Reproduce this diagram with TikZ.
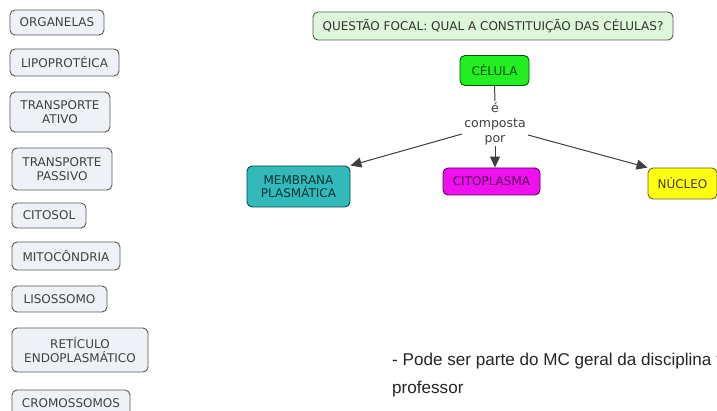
\documentclass[tikz,border=0pt]{standalone}
\usepackage{fontspec}
\setmainfont{DejaVu Sans}
\newfontfamily\arialfont{Liberation Sans}
\usetikzlibrary{arrows.meta}
\begin{document}
\begin{tikzpicture}[x=1pt,y=-1pt,
  concept/.style={draw=black!65,line width=0.9pt,rounded corners=5pt,fill=leftfill,
    font=\fontsize{12}{13.5}\selectfont,text=black!75,align=center,inner sep=0pt},
  linkline/.style={draw=black!75,line width=1pt},
  linkarrow/.style={linkline,-{Triangle[length=11pt,width=10pt]}}]
\definecolor{leftfill}{HTML}{EEF2F6}
\definecolor{focalfill}{HTML}{DDF7DA}
\definecolor{celfill}{HTML}{22EE22}
\definecolor{memfill}{HTML}{33B9B9}
\definecolor{citfill}{HTML}{EE11EE}
\definecolor{nucfill}{HTML}{FFFF11}
\clip (0,0) rectangle (717,411);
\fill[white] (0,0) rectangle (717,411);
% left column
\node[concept,minimum width=94pt,minimum height=25pt] (org) at (57,22.5) {ORGANELAS};
\node[concept,minimum width=109pt,minimum height=27pt] (lip) at (64.5,62.5) {LIPOPROTÉICA};
\node[concept,minimum width=100pt,minimum height=40pt] (tra) at (60,112) {TRANSPORTE\\ATIVO};
\node[concept,minimum width=100pt,minimum height=42pt] (trp) at (62,169) {TRANSPORTE\\PASSIVO};
\node[concept,minimum width=74pt,minimum height=25pt] (cit) at (49,215.5) {CITOSOL};
\node[concept,minimum width=108pt,minimum height=28pt] (mit) at (66,256) {MITOCÔNDRIA};
\node[concept,minimum width=95pt,minimum height=26pt] (lis) at (59.5,299) {LISOSSOMO};
\node[concept,minimum width=136pt,minimum height=44pt] (ret) at (80,350) {RETÍCULO\\ENDOPLASMÁTICO};
\node[concept,minimum width=118pt,minimum height=26pt] (cro) at (71,403) {CROMOSSOMOS};
% focal question
\node[concept,fill=focalfill,text=black!80,minimum width=360pt,minimum height=28pt] (foc) at (493,26) {QUESTÃO FOCAL: QUAL A CONSTITUIÇÃO DAS CÉLULAS?};
% main concepts
\node[concept,fill=celfill,draw=green!35!black,text=green!30!black,minimum width=69pt,minimum height=30pt] (cel) at (494.5,70.5) {CÉLULA};
\node[font=\fontsize{12.5}{15}\selectfont,text=black!75,align=center,inner sep=0pt] (lk) at (495,124) {é\\composta\\por};
\node[concept,fill=memfill,draw=teal!60!black,text=teal!40!black,minimum width=103pt,minimum height=41pt] (mem) at (298.5,186.5) {MEMBRANA\\PLASMÁTICA};
\node[concept,fill=citfill,draw=violet!70!black,text=violet!70!black,minimum width=97pt,minimum height=27pt] (cp) at (491.5,181.5) {CITOPLASMA};
\node[concept,fill=nucfill,draw=olive!70!black,text=olive!30!black,minimum width=69pt,minimum height=31pt] (nuc) at (682.5,183.5) {NÚCLEO};
% connectors
\coordinate (lkw) at (462,134);
\coordinate (lke) at (528,135);
\coordinate (lks) at (495,146);
\coordinate (lkn) at (495,101);
\draw[linkline] (cel.south) -- (lkn);
\draw[linkarrow] (lkw) -- (mem.north east);
\draw[linkarrow] (lks) -- (lks |- cp.north);
\draw[linkarrow] (lke) -- (nuc.north west);
% note text
\node[anchor=base west,font=\arialfont\fontsize{17.1}{28}\selectfont,text=black!85,align=left,inner sep=0pt] (note) at (392,393) {- Pode ser parte do MC geral da disciplina feita pelo\\professor};
\end{tikzpicture}
\end{document}
